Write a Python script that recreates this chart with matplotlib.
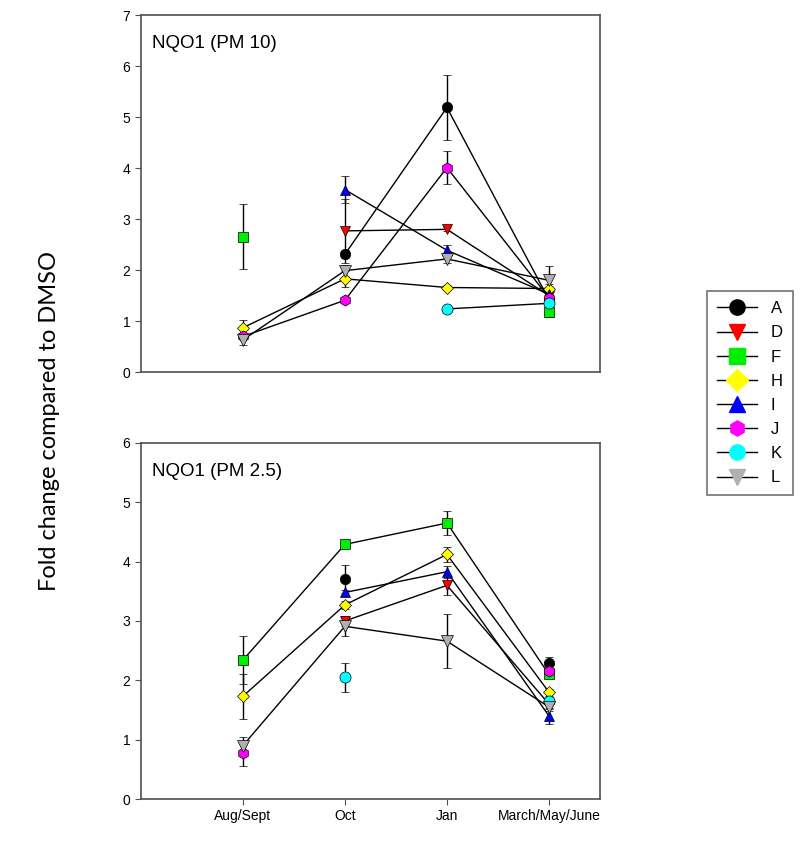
import numpy as np
import matplotlib
matplotlib.use("Agg")
import matplotlib.pyplot as plt
from matplotlib.lines import Line2D

nan = np.nan

# x categories (sampling periods)
periods = ['Aug/Sept', 'Oct', 'Jan', 'March/May/June']
sites = ['A', 'D', 'F', 'H', 'I', 'J', 'K', 'L']

# NQO1 fold change, PM 10
pm10_A = [nan, 2.31, 5.19, 1.42]
pm10_D = [nan, 2.77, 2.80, 1.50]
pm10_F = [2.66, nan, nan, 1.17]
pm10_H = [0.87, 1.83, 1.66, 1.64]
pm10_I = [nan, 3.58, 2.39, 1.53]
pm10_J = [0.70, 1.41, 4.01, 1.46]
pm10_K = [nan, nan, 1.24, 1.35]
pm10_L = [0.63, 1.99, 2.22, 1.80]

pm10_A_err = [nan, 0.08, 0.63, 0.10]
pm10_D_err = [nan, 0.63, 0.04, 0.10]
pm10_F_err = [0.64, nan, nan, 0.09]
pm10_H_err = [0.15, 0.16, 0.04, 0.08]
pm10_I_err = [nan, 0.27, 0.10, 0.10]
pm10_J_err = [0.05, 0.05, 0.32, 0.05]
pm10_K_err = [nan, nan, 0.04, 0.06]
pm10_L_err = [0.10, 0.12, 0.08, 0.28]

# NQO1 fold change, PM 2.5
pm25_A = [nan, 3.71, nan, 2.29]
pm25_D = [nan, 3.00, 3.60, 1.60]
pm25_F = [2.34, 4.29, 4.65, 2.10]
pm25_H = [1.73, 3.27, 4.12, 1.80]
pm25_I = [nan, 3.48, 3.83, 1.40]
pm25_J = [0.77, nan, nan, 2.16]
pm25_K = [nan, 2.05, nan, 1.66]
pm25_L = [0.90, 2.91, 2.66, 1.55]

pm25_A_err = [nan, 0.24, nan, 0.10]
pm25_D_err = [nan, 0.08, 0.17, 0.08]
pm25_F_err = [0.41, 0.04, 0.20, 0.06]
pm25_H_err = [0.38, 0.06, 0.13, 0.06]
pm25_I_err = [nan, 0.05, 0.10, 0.14]
pm25_J_err = [0.21, nan, nan, 0.05]
pm25_K_err = [nan, 0.25, nan, 0.06]
pm25_L_err = [0.15, 0.16, 0.45, 0.06]

pm10 = [pm10_A, pm10_D, pm10_F, pm10_H, pm10_I, pm10_J, pm10_K, pm10_L]
pm10_err = [pm10_A_err, pm10_D_err, pm10_F_err, pm10_H_err,
            pm10_I_err, pm10_J_err, pm10_K_err, pm10_L_err]
pm25 = [pm25_A, pm25_D, pm25_F, pm25_H, pm25_I, pm25_J, pm25_K, pm25_L]
pm25_err = [pm25_A_err, pm25_D_err, pm25_F_err, pm25_H_err,
            pm25_I_err, pm25_J_err, pm25_K_err, pm25_L_err]

colors = ['black', 'red', '#00ee00', 'yellow', 'blue', 'magenta', 'cyan', '#b0b0b0']
markers = ['o', 'v', 's', 'D', '^', 'h', 'o', 'v']
msizes = [7.5, 7.5, 6.5, 6.5, 7.5, 8, 8, 8]

frame = '#505050'
x = np.arange(1, 5)

fig = plt.figure(figsize=(8, 8.42), dpi=100)
ax1 = fig.add_axes([0.176, 0.558, 0.574, 0.424])
ax2 = fig.add_axes([0.176, 0.051, 0.574, 0.423])


def draw(ax, data, errs, title, ymax):
    for vals, err, c, m, ms in zip(data, errs, colors, markers, msizes):
        ax.errorbar(x, vals, yerr=err, color='black', ecolor='black',
                    elinewidth=1, capsize=3, capthick=1, linewidth=1,
                    marker=m, markersize=ms, markerfacecolor=c,
                    markeredgecolor='black', markeredgewidth=0.5)
    ax.set_xlim(0, 4.5)
    ax.set_ylim(0, ymax)
    ax.set_yticks(range(0, ymax + 1))
    for s in ax.spines.values():
        s.set_color(frame)
        s.set_linewidth(1.2)
    ax.tick_params(axis='y', direction='out', length=4, color=frame,
                   labelsize=10)
    ax.text(0.024, 0.944, title, transform=ax.transAxes, ha='left', va='top',
            fontsize=13.5, family='Liberation Sans')
    for lab in ax.get_yticklabels():
        lab.set_family('Liberation Sans')


draw(ax1, pm10, pm10_err, 'NQO1 (PM 10)', 7)
draw(ax2, pm25, pm25_err, 'NQO1 (PM 2.5)', 6)

ax1.set_xticks([])
ax2.set_xticks(x)
ax2.set_xticklabels(periods, fontsize=10, family='Liberation Sans')
ax2.tick_params(axis='x', direction='out', length=4, color=frame)

fig.text(0.0625, 0.5, 'Fold change compared to DMSO', rotation=90,
         ha='center', va='center', fontsize=17, family='Lato')

handles = [Line2D([0], [0], color='black', lw=1, marker=m, markersize=11,
                  markerfacecolor=c, markeredgecolor=c)
           for c, m in zip(colors, markers)]
leg = fig.legend(handles, sites, loc='upper left',
                 bbox_to_anchor=(0.884, 0.654), borderaxespad=0,
                 prop={'family': 'Liberation Sans', 'size': 12},
                 frameon=True, fancybox=False, edgecolor=frame,
                 handlelength=2.4, labelspacing=0.55, borderpad=0.6)
leg.get_frame().set_linewidth(1.2)

fig.savefig('out.png', dpi=100)
